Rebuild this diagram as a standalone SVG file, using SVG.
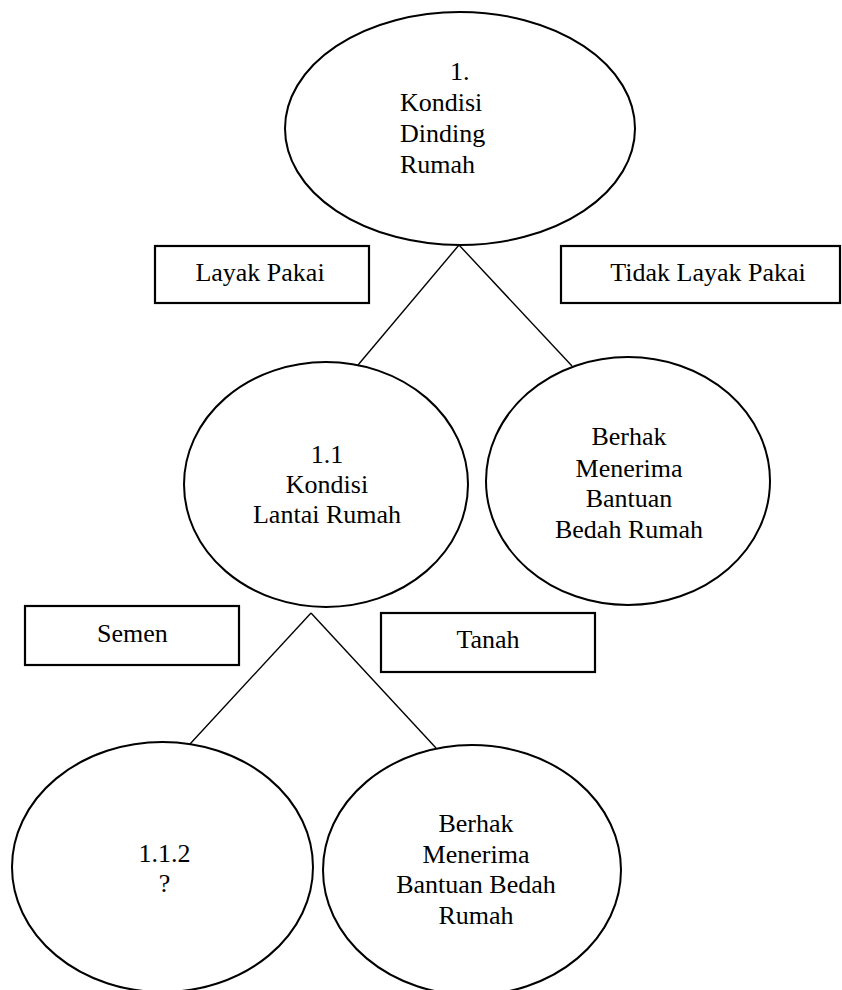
<svg xmlns="http://www.w3.org/2000/svg" width="842" height="990" viewBox="0 0 842 990">
<style>
  .node { fill: #ffffff; stroke: #000000; stroke-width: 2; }
  .box { fill: #ffffff; stroke: #000000; stroke-width: 2.2; }
  .lbl { font-family: "Liberation Serif", "Times New Roman", serif; font-size: 26px; fill: #000000; }
  .mid { text-anchor: middle; }
  .edge { stroke: #000000; stroke-width: 1.4; fill: none; }
</style>
<rect width="842" height="990" fill="#ffffff"/>
<g id="connectors">
  <line class="edge" x1="459" y1="245" x2="358" y2="365"/>
  <line class="edge" x1="459" y1="245" x2="572" y2="366"/>
  <line class="edge" x1="311" y1="613" x2="190" y2="744"/>
  <line class="edge" x1="311" y1="613" x2="436" y2="748"/>
</g>
<g id="node-root">
  <ellipse class="node" cx="460" cy="128.5" rx="175" ry="116.5"/>
  <text class="lbl" x="450" y="80">1.</text>
  <text class="lbl" x="400" y="111">Kondisi</text>
  <text class="lbl" x="400" y="142">Dinding</text>
  <text class="lbl" x="400" y="173">Rumah</text>
</g>
<g id="label-layak">
  <rect class="box" x="155" y="246" width="214" height="57"/>
  <text class="lbl mid" x="260" y="281">Layak Pakai</text>
</g>
<g id="label-tidak">
  <rect class="box" x="561" y="246" width="279" height="57"/>
  <text class="lbl mid" x="708" y="281">Tidak Layak Pakai</text>
</g>
<g id="node-lantai">
  <ellipse class="node" cx="326" cy="484.5" rx="142" ry="122.5"/>
  <text class="lbl mid" x="327" y="463">1.1</text>
  <text class="lbl mid" x="327" y="493">Kondisi</text>
  <text class="lbl mid" x="327" y="523">Lantai Rumah</text>
</g>
<g id="node-berhak-1">
  <ellipse class="node" cx="628" cy="481" rx="142" ry="124"/>
  <text class="lbl mid" x="629" y="445">Berhak</text>
  <text class="lbl mid" x="629" y="477">Menerima</text>
  <text class="lbl mid" x="629" y="507">Bantuan</text>
  <text class="lbl mid" x="629" y="538">Bedah Rumah</text>
</g>
<g id="label-semen">
  <rect class="box" x="25" y="606" width="214" height="59"/>
  <text class="lbl mid" x="132.5" y="642">Semen</text>
</g>
<g id="label-tanah">
  <rect class="box" x="381" y="613" width="214" height="59"/>
  <text class="lbl mid" x="488" y="648">Tanah</text>
</g>
<g id="node-112">
  <ellipse class="node" cx="162.5" cy="867" rx="150.5" ry="125"/>
  <text class="lbl mid" x="164.5" y="862">1.1.2</text>
  <text class="lbl mid" x="164.5" y="892">?</text>
</g>
<g id="node-berhak-2">
  <ellipse class="node" cx="472" cy="870" rx="149" ry="125"/>
  <text class="lbl mid" x="476" y="832">Berhak</text>
  <text class="lbl mid" x="476" y="863">Menerima</text>
  <text class="lbl mid" x="476" y="893">Bantuan Bedah</text>
  <text class="lbl mid" x="476" y="924">Rumah</text>
</g>
</svg>
